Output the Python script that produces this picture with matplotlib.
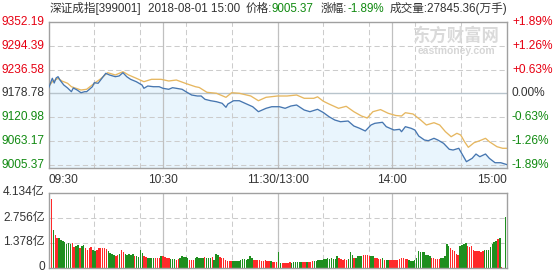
import matplotlib
matplotlib.use('Agg')
import matplotlib.pyplot as plt

# ---- data ----
prev_close = 9178.78
price_ticks = [9352.19, 9294.39, 9236.58, 9178.78, 9120.98, 9063.17, 9005.37]
pct_ticks = ['+1.89%', '+1.26%', '+0.63%', '0.00%', '-0.63%', '-1.26%', '-1.89%']
time_labels = ['09:30', '10:30', '11:30/13:00', '14:00', '15:00']
time_pos = [0.0, 0.25, 0.5, 0.75, 1.0]

# minute index (0..240) and price
price_t = [0, 2, 3, 4, 5, 6, 8, 10, 12, 13, 15, 17, 19, 20, 23, 24, 26, 28, 30, 32,
           35, 37, 39, 41, 43, 46, 49, 50, 52, 55, 58, 60, 63, 65, 67, 70, 72, 75, 78, 80,
           82, 85, 88, 91, 93, 94, 97, 100, 103, 107, 110, 114, 117, 121, 124, 127, 130,
           134, 137, 141, 144, 147, 150, 153, 157, 160, 163, 166, 169, 171, 175, 177, 181,
           184, 185, 187, 190, 192, 194, 197, 199, 202, 204, 207, 210, 212, 215, 217, 219,
           222, 224, 226, 229, 231, 234, 237, 240]
price_v = [9190.8, 9215.2, 9203.7, 9215.9, 9219.1, 9211.0, 9198.9, 9191.6, 9182.6, 9191.6,
           9186.7, 9180.1, 9182.6, 9182.6, 9194.7, 9204.5, 9203.0, 9215.2, 9227.3, 9223.2,
           9219.1, 9220.8, 9228.8, 9219.1, 9212.7, 9206.9, 9198.9, 9190.8, 9196.4, 9194.7,
           9194.7, 9190.8, 9188.4, 9192.3, 9190.8, 9188.4, 9182.6, 9174.5, 9172.1, 9172.1,
           9164.0, 9160.6, 9158.2, 9154.3, 9144.6, 9152.6, 9160.6, 9160.6, 9154.3, 9146.0,
           9133.9, 9142.1, 9146.0, 9146.0, 9142.1, 9147.7, 9150.2, 9138.0, 9133.9, 9139.7,
           9131.9, 9121.7, 9113.7, 9109.5, 9111.2, 9099.1, 9093.5, 9086.9, 9101.5, 9105.6,
           9108.1, 9097.4, 9089.3, 9091.0, 9085.2, 9097.4, 9093.5, 9089.3, 9074.7, 9065.0,
           9063.3, 9069.1, 9065.0, 9057.0, 9042.4, 9040.6, 9044.8, 9028.5, 9012.2, 9020.4,
           9030.9, 9024.3, 9030.9, 9020.4, 9009.7, 9009.7, 9005.37]

avg_t = [0, 2, 5, 7, 10, 12, 17, 20, 24, 27, 31, 35, 39, 42, 46, 50, 54, 59, 63, 67, 72,
         77, 79, 83, 88, 93, 96, 100, 106, 110, 114, 120, 125, 130, 134, 139, 141, 144,
         147, 152, 156, 160, 164, 167, 170, 174, 178, 182, 185, 187, 191, 195, 198, 202,
         205, 208, 211, 214, 216, 218, 220, 223, 226, 229, 231, 235, 238, 240]
avg_v = [9194.7, 9206.9, 9215.2, 9208.6, 9203.0, 9194.7, 9186.7, 9188.4, 9203.0, 9212.7,
         9228.8, 9223.2, 9231.2, 9223.2, 9215.2, 9206.9, 9212.7, 9212.7, 9208.6, 9211.0,
         9202.5, 9194.7, 9192.8, 9181.1, 9178.7, 9168.9, 9180.1, 9178.7, 9172.1, 9160.6,
         9168.9, 9172.1, 9172.1, 9174.5, 9166.5, 9166.5, 9170.1, 9159.4, 9152.6, 9142.1,
         9147.0, 9133.9, 9123.4, 9118.5, 9133.9, 9139.0, 9130.0, 9124.6, 9123.4, 9131.4,
         9128.3, 9113.7, 9101.5, 9107.1, 9101.5, 9085.2, 9073.0, 9081.3, 9077.2, 9060.9,
         9047.2, 9058.4, 9063.3, 9069.1, 9060.9, 9048.7, 9044.8, 9044.8]

# volume per minute (亿), ten per row, and bar colour per row (r = up, g = down)
volume = [3.75, 2.06, 1.78, 1.65, 1.60, 1.54, 1.47, 1.41, 1.29, 1.36,
          1.29, 1.36, 1.14, 1.18, 1.23, 1.10, 1.18, 1.23, 1.05, 0.99,
          1.10, 1.14, 0.96, 0.90, 0.99, 1.05, 1.05, 1.05, 1.05, 1.03,
          0.90, 0.81, 0.73, 0.68, 0.64, 0.68, 0.77, 0.96, 0.86, 0.77,
          0.68, 0.73, 0.68, 0.73, 0.62, 0.62, 0.59, 0.96, 0.81, 0.62,
          0.59, 0.53, 0.55, 0.55, 0.55, 0.55, 0.55, 0.55, 0.62, 0.62,
          0.59, 0.50, 0.50, 0.46, 0.46, 0.46, 0.40, 0.46, 0.55, 0.62,
          0.59, 0.59, 0.53, 0.44, 0.44, 0.40, 0.50, 0.59, 0.55, 0.55,
          0.53, 0.59, 0.50, 0.50, 0.53, 0.59, 0.40, 0.73, 0.68, 0.59,
          0.53, 0.50, 0.44, 0.37, 0.35, 0.35, 0.37, 0.37, 0.37, 0.37,
          0.40, 0.46, 0.46, 0.44, 0.46, 0.62, 0.53, 0.44, 0.44, 0.44,
          0.40, 0.37, 0.37, 0.40, 0.35, 0.37, 0.35, 0.33, 0.31, 0.31,
          0.86, 0.26, 0.26, 0.26, 0.26, 0.26, 0.28, 0.26, 0.28, 0.28,
          0.31, 0.31, 0.31, 0.31, 0.31, 0.31, 0.31, 0.33, 0.37, 0.35,
          0.37, 0.40, 0.40, 0.44, 0.46, 0.48, 0.50, 0.46, 0.50, 0.46,
          0.48, 0.62, 0.53, 0.46, 0.44, 0.46, 0.44, 0.46, 0.83, 0.68,
          0.55, 0.55, 0.62, 0.62, 0.62, 0.68, 0.68, 0.68, 0.64, 0.62,
          0.62, 0.50, 0.50, 0.48, 0.46, 0.53, 0.40, 0.44, 0.44, 0.40,
          0.40, 0.40, 0.40, 0.40, 0.46, 0.50, 0.50, 0.48, 0.46, 0.40,
          0.37, 0.37, 0.40, 0.50, 0.90, 0.86, 0.83, 0.83, 0.68, 0.68,
          0.66, 0.55, 0.50, 0.48, 0.46, 0.46, 0.50, 0.50, 0.62, 1.27,
          1.20, 1.05, 0.96, 0.90, 0.73, 0.70, 1.18, 1.25, 1.32, 1.34,
          1.18, 1.15, 1.18, 0.96, 0.90, 0.90, 0.90, 0.86, 0.92, 0.96,
          0.96, 0.96, 1.14, 1.30, 1.40, 1.45, 1.55, 1.60, 0.05, 0.00,
          2.78]
vol_color = ('rgrrgggggg' 'grrggrggrr' 'rrggrrrrrr' 'ggggrrgrrg' 'ggggrggggr'
             'rggggrrrgr' 'rrrgggrrgg' 'gggrrrgggg' 'grgggrgggr' 'rrrrrrgggg'
             'gggggggrrr' 'rrrrrrgrrr' 'ggrrrrrggg' 'gggrrgrrrg' 'gggggggggg'
             'ggrrrrrggg' 'rggggrrrrg' 'grrrrgrggr' 'rrrrrrrrrg' 'gggggggggg'
             'grrrrrgggg' 'grrrrrgggg' 'rrrrrrrrrg' 'ggggggrgrg' 'g')
vol_ticks = [0, 1.378, 2.756, 4.134]
vol_labels = ['0', '1.378亿', '2.756亿', '4.134亿']

RED, GREEN, GRAY = '#e60012', '#118a11', '#333333'
W, H = 557, 276
plt.rcParams['font.family'] = ['Liberation Sans', 'Noto Sans CJK SC', 'DejaVu Sans']


def fx(px):
    return px / W


def fy(py):
    return 1 - py / H


fig = plt.figure(figsize=(W / 100, H / 100), dpi=100)
fig.patch.set_facecolor('white')

L, R = 48.5, 506.5
T1, B1 = 22, 168
T2, B2 = 192.5, 267.5

ax = fig.add_axes([fx(L), fy(B1), (R - L) / W, (B1 - T1) / H])
axv = fig.add_axes([fx(L), fy(B2), (R - L) / W, (B2 - T2) / H])

dash = (0, (5, 3))
for a in (ax, axv):
    a.set_xticks([])
    a.set_yticks([])
    for s in a.spines.values():
        s.set_color('#a0a0a0')
        s.set_linewidth(1.0)
    for k in range(1, 10):
        a.plot([k / 10, k / 10], [0, 1], transform=a.transAxes, color='#cccccc',
               lw=0.75, ls=dash, zorder=1)
    for f in (0.25, 0.5, 0.75):
        a.plot([f, f], [0, 1], transform=a.transAxes, color='#c0c0c0', lw=0.9, zorder=1.1)

# ---- price panel ----
ymax = price_ticks[0]
ymin = ymax - (B1 - T1) * (price_ticks[0] - price_ticks[-1]) / (164.5 - T1)
ax.set_xlim(0, 240)
ax.set_ylim(ymin, ymax)
ax.fill_between(price_t, price_v, ymin, color='#e9f5fd', lw=0, zorder=0.5)
for v in price_ticks[1:]:
    if v == prev_close:
        ax.axhline(v, color='#b8c4cc', lw=1.0, zorder=1.2)
    else:
        ax.axhline(v, color='#cccccc', lw=0.75, ls=dash, zorder=1)
ax.plot(avg_t, avg_v, color='#e6b760', lw=0.95, zorder=3)
ax.plot(price_t, price_v, color='#4676b0', lw=0.95, zorder=4)

for v, p in zip(price_ticks, pct_ticks):
    c = RED if v > prev_close else (GREEN if v < prev_close else GRAY)
    ax.text(-0.008, v, f'{v:.2f}', transform=ax.get_yaxis_transform(), ha='right',
            va='center', fontsize=8.6, color=c)
    ax.text(1.012, v, p, transform=ax.get_yaxis_transform(), ha='left',
            va='center', fontsize=8.6, color=c)

# watermark
fig.text(fx(456), fy(36), '东方财富网', fontsize=12.5, color='#dadada', ha='center',
         va='center', family=['Noto Sans CJK SC'], fontweight='bold', zorder=0)
fig.text(fx(456), fy(50.5), 'eastmoney.com', fontsize=7.5, color='#d6d6d6', ha='center',
         va='center', fontweight='bold', zorder=0)

# ---- volume panel ----
n = len(volume)
pitch = (505.5 - 51.5) / (n - 1)
axv.set_xlim(-(51.5 - L) / pitch, (n - 1) + (R - 505.5) / pitch)
axv.set_ylim(0, vol_ticks[-1])
cols = ['#ff2a2a' if c == 'r' else '#1f8f1f' for c in vol_color]
axv.bar(range(n), volume, width=0.78, color=cols, lw=0, zorder=2)
for v in vol_ticks[1:3]:
    axv.axhline(v, color='#cccccc', lw=0.75, ls=dash, zorder=1)
for v, lab in zip(vol_ticks, vol_labels):
    axv.text(-0.008, v, lab, transform=axv.get_yaxis_transform(), ha='right',
             va='center', fontsize=8.6, color=GRAY)

# time labels
for f, lab in zip(time_pos, time_labels):
    ha = 'left' if f == 0 else ('right' if f == 1 else 'center')
    fig.text(fx(L + f * (R - L)), fy(180), lab, ha=ha, va='center', fontsize=8.6,
             color=GRAY)

# header
header = [(50, '深证成指[399001]', GRAY), (148, '2018-08-01 15:00', GRAY),
          (246, '价格:', GRAY), (272, '9005.37', GREEN), (321, '涨幅:', GRAY),
          (347, '-1.89%', GREEN), (390, '成交量:27845.36(万手)', GRAY)]
for x, s, c in header:
    fig.text(fx(x), fy(8.5), s, ha='left', va='center', fontsize=8.4, color=c)

fig.savefig('out.png', dpi=100)
